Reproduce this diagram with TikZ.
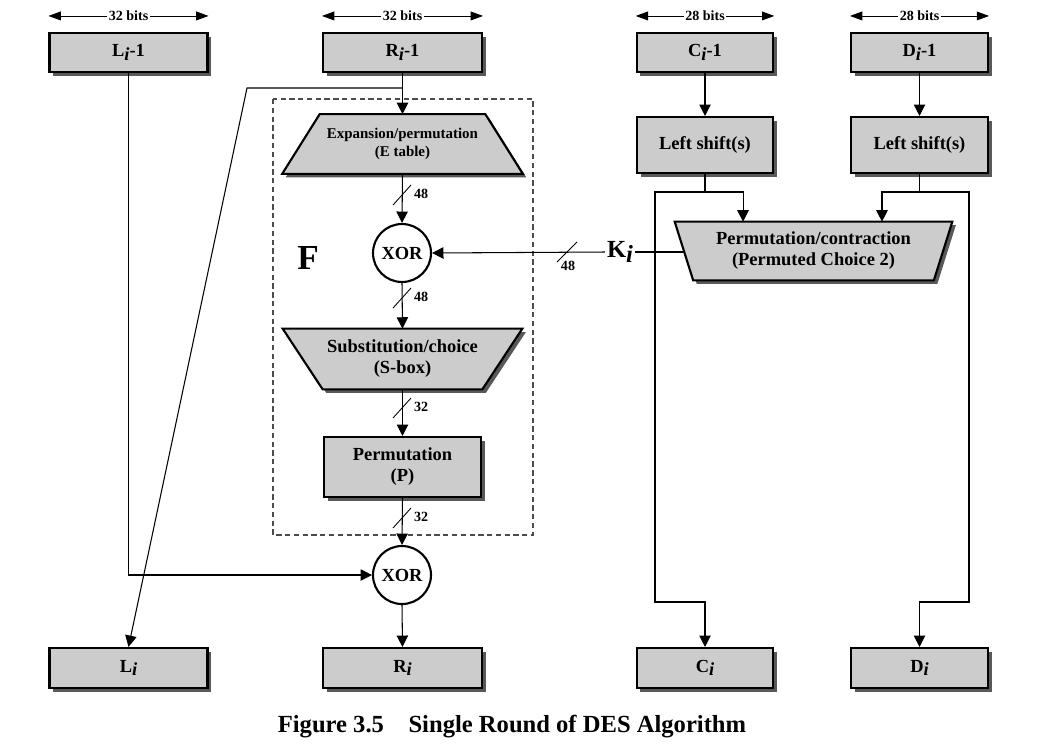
\documentclass[tikz,border=0pt]{standalone}
\usepackage{fontspec}
\setmainfont{Liberation Serif}
\usetikzlibrary{arrows.meta,shadows,backgrounds,positioning}
\newcommand{\ix}{\raisebox{-0.4ex}{\textit{i}}}
\tikzset{
  arr/.style={-{Triangle[width=6.5pt,length=6.5pt]}, line width=0.6pt},
  boxfont/.style={font=\bfseries\fontsize{10.5}{12}\selectfont},
  shade/.style={drop shadow={shadow xshift=2pt, shadow yshift=-2pt, fill=gray!70!black, opacity=1}},
  blk/.style={draw, line width=1.2pt, fill=gray!40, align=center, boxfont, shade},
  trap/.style={align=center, boxfont, inner sep=0pt},
  trapfill/.style={draw, line width=1.2pt, fill=gray!40, shade},
  xorc/.style={circle, draw, line width=1.2pt, fill=white, minimum size=1.16cm, inner sep=0pt, boxfont},
  bitlbl/.style={fill=white, inner sep=1pt, font=\bfseries\fontsize{8}{9}\selectfont},
  buslbl/.style={font=\bfseries\fontsize{8}{9}\selectfont, inner sep=1pt},
  vbus/.pic={\draw[line width=0.5pt] (-9,10) -- (9,-10); \node[buslbl, anchor=west] (-n) at (10,-1) {#1};},
  hbus/.pic={\draw[line width=0.5pt] (-10,10) -- (10,-10); \node[buslbl, anchor=north] (-n) at (1,7) {#1};},
}
\begin{document}
\begin{tikzpicture}[x=0.02cm, y=-0.02cm]
  \useasboundingbox (0,0) rectangle (1060,748);
  \foreach \nm/\x/\w/\bits/\txt in {lprev/128.5/3.16/32/L, rprev/402.5/3.18/32/R, cprev/705/2.73/28/C, dprev/919.5/2.74/28/D} {
    \node[blk, minimum width=\w cm, minimum height=0.78cm] (\nm) at (\x,52.5) {\txt\ix-1};
    \draw[{Triangle[width=5pt,length=7pt]}-{Triangle[width=5pt,length=7pt]}, line width=0.5pt]
      ([yshift=0.32cm]\nm.north west) -- ([yshift=0.32cm]\nm.north east)
      node[bitlbl, midway] (\nm-bits) {\bits{} bits};
  }
  \foreach \nm/\x/\w/\txt in {li/128.5/3.16/L, ri/402.5/3.18/R, ci/705/2.73/C, di/919.5/2.74/D} {
    \node[blk, minimum width=\w cm, minimum height=0.8cm] (\nm) at (\x,668) {\txt\ix};
  }
  \node[blk, minimum width=2.72cm, minimum height=1.12cm] (lsc) at (705,145) {Left shift(s)};
  \node[blk, minimum width=2.74cm, minimum height=1.12cm] (lsd) at (919.5,145) {Left shift(s)};
  \node[blk, minimum width=3.14cm, minimum height=1.2cm] (perm) at (402.5,467) {Permutation\\(P)};
  \node[trap, minimum width=4.8cm, minimum height=1.18cm, font=\bfseries\fontsize{8.5}{10}\selectfont] (ep) at (402.5,144) {Expansion/permutation\\(E table)};
  \node[trap, minimum width=4.78cm, minimum height=1.2cm] (sb) at (402.5,359) {Substitution/choice\\(S-box)};
  \node[trap, minimum width=5.54cm, minimum height=1.16cm] (pc2) at (813.5,251) {Permutation/contraction\\(Permuted Choice 2)};
  \begin{scope}[on background layer]
    \path[trapfill] ([xshift=0.75cm]ep.north west) -- ([xshift=-0.75cm]ep.north east) -- (ep.south east) -- (ep.south west) -- cycle;
    \path[trapfill] (sb.north west) -- (sb.north east) -- ([xshift=-0.8cm]sb.south east) -- ([xshift=0.8cm]sb.south west) -- cycle;
    \path[trapfill] (pc2.north west) -- (pc2.north east) -- ([xshift=-0.37cm]pc2.south east) -- ([xshift=0.37cm]pc2.south west) -- cycle;
  \end{scope}
  \draw[dashed, dash pattern=on 3pt off 2pt, line width=0.7pt, gray!60!black] (273,99) rectangle (533,535);
  \node[font=\bfseries\fontsize{20}{22}\selectfont] (flbl) at (308,258) {F};
  \node[xorc] (xor1) at (402,253) {XOR};
  \node[xorc] (xor2) at (402,575) {XOR};
  \node[font=\bfseries\fontsize{14}{16}\selectfont, inner sep=1pt] (ki) at (620,252) {K\ix};
  \node[font=\bfseries\fontsize{14}{16}\selectfont] (cap) at (512,727) {Figure 3.5\hspace{1em}Single Round of DES Algorithm};
  % F function path
  \coordinate (rb) at (402,88);
  \draw[arr] (rprev.south) -- (ep.north);
  \draw[arr] (rb) -- (247,88) -- (li.north);
  \draw[arr] (ep.south) -- (xor1.north);
  \draw[arr] (xor1.south) -- (sb.north);
  \draw[arr] (sb.south) -- (perm.north);
  \draw[arr] (perm.south) -- (xor2.north);
  \draw[arr] (xor2.south) -- (ri.north);
  \draw[arr] (lprev.south) |- (xor2.west);
  \pic at (402,195) {vbus=48};
  \pic at (402,298) {vbus=48};
  \pic at (402,408) {vbus=32};
  \pic at (402,518) {vbus=32};
  % subkey
  \coordinate (pcin) at ([xshift=0.21cm]pc2.west);
  \draw[arr] (ki.west) -- (xor1.east);
  \draw[line width=0.6pt] (ki.east) -- (ki.east -| pcin);
  \pic at (567,252) {hbus=48};
  % key schedule
  \draw[arr] (cprev.south) -- (lsc.north);
  \draw[arr] (dprev.south) -- (lsd.north);
  \coordinate (cj) at (705,192);
  \coordinate (dj) at (919.5,192);
  \draw[line width=0.6pt] (lsc.south) -- (cj);
  \draw[line width=0.6pt] (lsd.south) -- (dj);
  \draw[arr] (cj) -| ([xshift=-1.41cm]pc2.north);
  \draw[arr] (dj) -| ([xshift=1.37cm]pc2.north);
  \draw[arr] (cj) -| (655,602) -| (ci.north);
  \draw[arr] (dj) -| (969,602) -| (di.north);
\end{tikzpicture}
\end{document}
